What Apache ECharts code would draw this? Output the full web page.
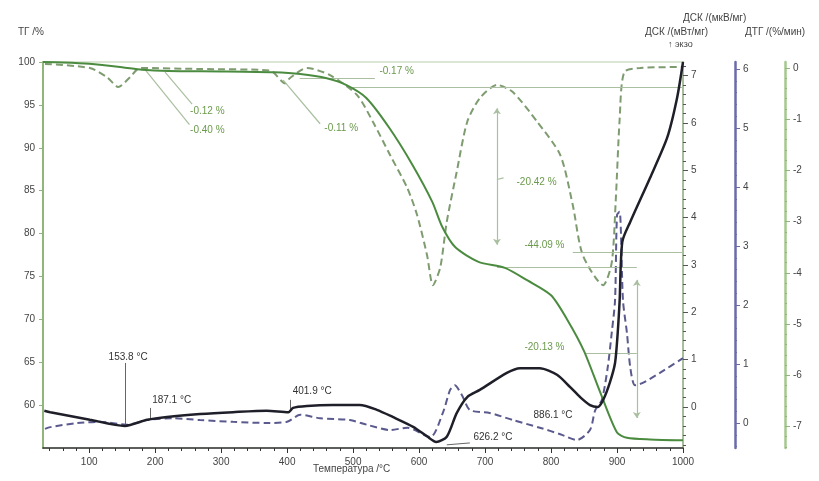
<!DOCTYPE html>
<html><head><meta charset="utf-8">
<script src="https://cdn.jsdelivr.net/npm/echarts@6/dist/echarts.min.js"></script>
<style>html,body{margin:0;padding:0;background:#fff}#c{width:819px;height:481px}</style>
</head><body><div id="c"></div>
<script>
// ---- data (temperature °C, values) ----
const tgTemp = [30,60,100,150,180,220,300,380,420,460,490,520,555,590,620,635,655,690,730,765,800,825,850,875,900,915,950,1000];
const tgVal  = [100,99.95,99.8,99.4,99.1,98.95,98.9,98.8,98.6,98.1,97.3,95.8,92.3,88.0,83.7,80.8,78.4,76.7,76.0,74.5,72.8,69.9,66.3,61.4,56.8,56.2,56.0,55.9];

const dtgTemp = [33,101,127,144,162,177,268,374,397,404,430,465,506,530,556,582,597,612,621,632,642,657,673,692,718,742,779,814,833,848,879,892,898,904,911,935,1000];
const dtgVal  = [0.08,0.0,-0.18,-0.37,-0.18,0.0,-0.02,-0.05,-0.3,-0.2,0.0,-0.14,-0.53,-1.05,-1.7,-2.34,-2.87,-3.65,-4.24,-3.9,-3.0,-2.03,-1.05,-0.59,-0.33,-0.47,-1.05,-1.7,-2.68,-3.65,-4.24,-3.8,-2.6,-1.0,-0.08,0.0,0.02];

const dscTemp = [32,41,101,154,188,218,268,318,369,402,409,430,469,510,536,560,591,612,626,642,657,673,692,733,753,783,809,829,844,859,871,879,889,897,901,904,908,920,950,976,991,1000];
const dscVal  = [-0.08,-0.11,-0.27,-0.40,-0.27,-0.21,-0.15,-0.11,-0.08,-0.11,-0.02,0.02,0.04,0.04,-0.06,-0.21,-0.42,-0.62,-0.74,-0.63,-0.13,0.21,0.36,0.72,0.82,0.82,0.68,0.42,0.21,0.04,0.0,0.15,0.51,0.93,1.56,2.26,3.49,3.91,4.84,5.69,6.53,7.29];

const dsc2Temp = [33,41,82,116,157,188,227,268,318,369,400,420,450,495,521,556,582,617,636,647,654,665,677,707,742,783,814,839,859,867,877,886,892,897,900,904,909,915,920,927,939,965,1000];
const dsc2Val  = [-0.1,-0.07,0.0,0.02,-0.03,0.05,0.08,0.05,0.02,0.0,0.02,0.14,0.08,0.05,-0.03,-0.12,-0.08,-0.24,0.17,0.56,0.64,0.47,0.22,0.17,0.05,-0.08,-0.19,-0.29,-0.12,0.22,0.39,0.95,1.53,2.08,3.53,3.58,2.08,1.53,0.95,0.64,0.68,0.85,1.10];

// tick labels
const xTicks = [100,200,300,400,500,600,700,800,900,1000];
const tgTicks = [60,65,70,75,80,85,90,95,100];
const dscTicks = [0,1,2,3,4,5,6,7];
const dsc2Ticks = [0,1,2,3,4,5,6];
const dtgTicks = [0,-1,-2,-3,-4,-5,-6,-7];

// annotations: mass-loss labels [text, temp, TG%]
const massLabels = [['-0.12 %',279,94.3],['-0.40 %',279,92.1],['-0.11 %',482,92.3],['-0.17 %',566,98.95],['-20.42 %',778,86.0],['-44.09 %',790,78.6],['-20.13 %',790,66.8]];
// annotation lines [t1,v1,t2,v2,arrowStart,arrowEnd]
const massLines = [
  [185,99.07,252,92.7,0,0],[215,98.83,256,95.1,0,0],[394,97.9,450,92.8,0,0],
  [419,98.1,533,98.1,0,0],[495,97.0,1000,97.0,0,0],
  [718,94.6,718,78.7,1,1],[718,86.3,728,86.5,0,0],[718,76.1,930,76.1,0,0],
  [833,77.85,1000,77.85,0,0],[851,66.1,930,66.1,0,0],[930,74.6,930,58.5,1,1]
];
// temperature labels [text, temp, DSC]
const tempLabels = [['153.8 °C',159,1.06],['187.1 °C',225,0.15],['401.9 °C',438,0.33],['626.2 °C',712,-0.63],['886.1 °C',803,-0.17]];
const tempLines = [[154,-0.40,154,0.93],[192,-0.27,192,-0.02],[404,-0.1,404,0.15],[642,-0.8,677,-0.76]];

function zip(a,b){return a.map((t,i)=>[t,b[i]]);}
function range(a,b,s){const r=[];for(let v=a;v<=b+1e-9;v+=s)r.push(+v.toFixed(3));return r;}

const FONT = 'Liberation Sans, Arial, sans-serif';
const lab = {color:'#444',fontSize:10,fontFamily:FONT,formatter:v=>String(v)};

function yAx(o){
  return Object.assign({type:'value',splitLine:{show:false},
    axisLine:{show:true,onZero:false},axisTick:{show:true},axisLabel:Object.assign({},lab)},o);
}

const chart = echarts.init(document.getElementById('c'),null,{renderer:'canvas'});
const option = {
  animation:false,
  backgroundColor:'#fff',
  grid:{left:43,right:136,top:62,bottom:33,show:true,borderColor:'#b8cfaa',borderWidth:1.2},
  xAxis:[
    {type:'value',min:30,max:1000,position:'bottom',splitLine:{show:false},
     axisLine:{onZero:false,lineStyle:{color:'#333',width:1.5}},
     axisTick:{customValues:xTicks,length:5,lineStyle:{color:'#333'}},
     axisLabel:Object.assign({customValues:xTicks,margin:9},lab)},
    {type:'value',min:30,max:1000,position:'bottom',splitLine:{show:false},
     axisLine:{show:false,onZero:false},
     axisTick:{customValues:range(40,1000,20),length:3,lineStyle:{color:'#333'}},
     axisLabel:{show:false}}
  ],
  yAxis:[
    yAx({position:'left',min:55,max:100,axisLine:{onZero:false,lineStyle:{color:'#8fb67b',width:2}},
      axisTick:{customValues:tgTicks,length:4,lineStyle:{color:'#8fb67b'}},
      axisLabel:Object.assign({customValues:tgTicks,margin:8},lab)}),
    yAx({position:'right',offset:0,min:-0.867,max:7.29,axisLine:{onZero:false,lineStyle:{color:'#a9bd9c',width:2}},
      axisTick:{customValues:dscTicks,length:5,lineStyle:{color:'#555'}},
      axisLabel:Object.assign({customValues:dscTicks,margin:8},lab)}),
    yAx({position:'right',offset:0,min:-0.867,max:7.29,axisLine:{show:false,onZero:false},
      axisTick:{customValues:range(-0.8,7.2,0.2),length:3,lineStyle:{color:'#555'}},axisLabel:{show:false}}),
    yAx({position:'right',offset:52,min:-0.424,max:6.12,axisLine:{onZero:false,lineStyle:{color:'#6b6ba8',width:2.5}},
      axisTick:{customValues:dsc2Ticks,length:5,lineStyle:{color:'#6b6ba8'}},
      axisLabel:Object.assign({customValues:dsc2Ticks,margin:8},lab)}),
    yAx({position:'right',offset:52,min:-0.424,max:6.12,axisLine:{show:false,onZero:false},
      axisTick:{customValues:range(-0.4,6,0.2),length:2,lineStyle:{color:'#6b6ba8'}},axisLabel:{show:false}}),
    yAx({position:'right',offset:102,min:-7.42,max:0.117,axisLine:{onZero:false,lineStyle:{color:'#a3c98e',width:2.5}},
      axisTick:{customValues:dtgTicks,length:5,lineStyle:{color:'#8fb67b'}},
      axisLabel:Object.assign({customValues:dtgTicks,margin:8},lab)}),
    yAx({position:'right',offset:102,min:-7.42,max:0.117,axisLine:{show:false,onZero:false},
      axisTick:{customValues:range(-7.4,0,0.2),length:2,lineStyle:{color:'#8fb67b'}},axisLabel:{show:false}})
  ],
  series:[
    {name:'TG',type:'line',xAxisIndex:0,yAxisIndex:0,data:zip(tgTemp,tgVal),showSymbol:false,smooth:0.25,
     lineStyle:{color:'#4b8b3f',width:2},z:5,
     markLine:{silent:true,symbol:['none','none'],symbolSize:6,animation:false,
       lineStyle:{color:'#a9bfa0',width:1.2,type:'solid'},label:{show:false},
       data:massLines.map(l=>[{coord:[l[0],l[1]],symbol:l[4]?'arrow':'none'},{coord:[l[2],l[3]],symbol:l[5]?'arrow':'none'}])},
     markPoint:{silent:true,symbol:'rect',symbolSize:1,itemStyle:{color:'rgba(0,0,0,0)'},animation:false,
       label:{show:true,position:'inside',formatter:'{b}',color:'#6b9a4c',fontSize:10,fontFamily:FONT},
       data:massLabels.map(m=>({name:m[0],coord:[m[1],m[2]]}))}},
    {name:'DTG',type:'line',xAxisIndex:0,yAxisIndex:5,data:zip(dtgTemp,dtgVal),showSymbol:false,smooth:0.25,
     lineStyle:{color:'#7e9c70',width:2,type:[7,4]},z:4},
    {name:'DSC',type:'line',xAxisIndex:0,yAxisIndex:1,data:zip(dscTemp,dscVal),showSymbol:false,smooth:0.25,
     lineStyle:{color:'#1f1f2a',width:2.5},z:6,
     markLine:{silent:true,symbol:['none','none'],animation:false,
       lineStyle:{color:'#666',width:1,type:'solid'},label:{show:false},
       data:tempLines.map(l=>[{coord:[l[0],l[1]]},{coord:[l[2],l[3]]}])},
     markPoint:{silent:true,symbol:'rect',symbolSize:1,itemStyle:{color:'rgba(0,0,0,0)'},animation:false,
       label:{show:true,position:'inside',formatter:'{b}',color:'#333',fontSize:10,fontFamily:FONT},
       data:tempLabels.map(m=>({name:m[0],coord:[m[1],m[2]]}))}},
    {name:'DSC2',type:'line',xAxisIndex:0,yAxisIndex:3,data:zip(dsc2Temp,dsc2Val),showSymbol:false,smooth:0.25,
     lineStyle:{color:'#5a5a8e',width:2,type:[7,4]},z:4}
  ],
  graphic:[
    {type:'text',left:18,top:27,style:{text:'ТГ /%',fill:'#444',font:'10px '+FONT}},
    {type:'text',left:683,top:13,style:{text:'ДСК /(мкВ/мг)',fill:'#444',font:'10px '+FONT}},
    {type:'text',left:645,top:27,style:{text:'ДСК /(мВт/мг)',fill:'#444',font:'10px '+FONT}},
    {type:'text',left:745,top:27,style:{text:'ДТГ /(%/мин)',fill:'#444',font:'10px '+FONT}},
    {type:'text',left:668,top:40,style:{text:'↑ экзо',fill:'#444',font:'9px '+FONT}},
    {type:'text',left:313,top:464,style:{text:'Температура /°C',fill:'#444',font:'10px '+FONT}}
  ]
};
chart.setOption(option);
</script></body></html>
